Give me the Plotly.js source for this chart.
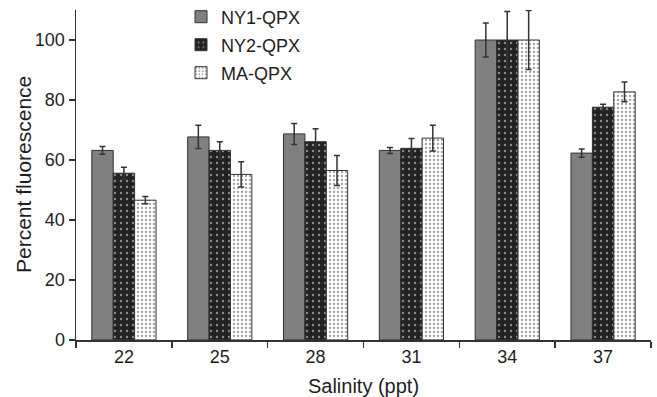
<!DOCTYPE html>
<html><head><meta charset="utf-8">
<script src="https://cdn.plot.ly/plotly-3.0.1.min.js"></script>
<style>html,body{margin:0;padding:0;background:#fff}#chart{width:657px;height:397px}</style>
</head><body><div id="chart"></div>
<script>
const categories = ['22','25','28','31','34','37'];
const ny1 = [63.2, 67.7, 68.7, 63.2, 100, 62.3];
const ny1Err = [1.3, 3.9, 3.5, 1.0, 5.7, 1.4];
const ny2 = [55.6, 63.2, 66.1, 63.9, 100, 77.6];
const ny2Err = [2.0, 2.9, 4.3, 3.3, 9.5, 1.0];
const ma = [46.6, 55.2, 56.5, 67.3, 100, 82.7];
const maErr = [1.2, 4.2, 5.0, 4.3, 9.8, 3.3];
const names = ['NY1-QPX','NY2-QPX','MA-QPX'];
const xTitle = 'Salinity (ppt)';
const yTitle = 'Percent fluorescence';

function tr(y, e, name, bg, fg, size, sol, leg){
  return {type:'bar', x:categories, y:y, name:name, legend:leg,
    marker:{color:bg, line:{color:'#333', width:1},
      pattern:{shape:'.', bgcolor:bg, fgcolor:fg, size:size, solidity:sol, fillmode:'replace'}},
    error_y:{type:'data', array:e, visible:true, color:'#333', thickness:1.5, width:3}};
}
const data = [
  tr(ny1, ny1Err, names[0], '#8a8a8a', '#5e5e5e', 2, 0.3, 'legend'),
  tr(ny2, ny2Err, names[1], '#222222', '#8a8a8a', 6, 0.12, 'legend2'),
  tr(ma, maErr, names[2], '#ffffff', '#a0a0a0', 4, 0.25, 'legend3')
];
const ff = '"Liberation Sans", Arial, sans-serif';
const font = {family:ff, size:18, color:'#1e1e1e'};
const xtFont = {family:ff, size:20, color:'#1e1e1e'};
const ytFont = {family:ff, size:21, color:'#1e1e1e'};
function lg(py){ return {x:181/657, y:1-py/397, xref:'container', yref:'container', xanchor:'left', yanchor:'middle',
  bgcolor:'rgba(0,0,0,0)', font:font, borderwidth:0}; }
const layout = {
  width:657, height:397,
  margin:{l:76, r:6, t:10, b:56.5, pad:0, autoexpand:false},
  paper_bgcolor:'#fff', plot_bgcolor:'#fff',
  font:font,
  barmode:'group', bargap:0.33, bargroupgap:0,
  showlegend:true,
  legend:lg(17), legend2:lg(45), legend3:lg(73),
  xaxis:{type:'category', showline:true, linecolor:'#333', linewidth:1.5,
    ticks:'outside', tickson:'boundaries', ticklen:6, tickcolor:'#333', tickwidth:1.5,
    showgrid:false, zeroline:false, tickfont:font, automargin:false,
    title:{text:xTitle, font:xtFont}},
  yaxis:{range:[0,110], showline:true, linecolor:'#333', linewidth:1.5,
    ticks:'outside', ticklen:6, tickcolor:'#333', tickwidth:1.5, automargin:false,
    tickvals:[0,20,40,60,80,100], showgrid:false, zeroline:false, tickfont:font},
  annotations:[{text:yTitle, textangle:-90, xref:'paper', yref:'paper', x:(23-76)/575, y:0.5,
    xanchor:'center', yanchor:'middle', showarrow:false, font:ytFont}]
};
Plotly.newPlot('chart', data, layout, {staticPlot:true, displayModeBar:false});
</script></body></html>
